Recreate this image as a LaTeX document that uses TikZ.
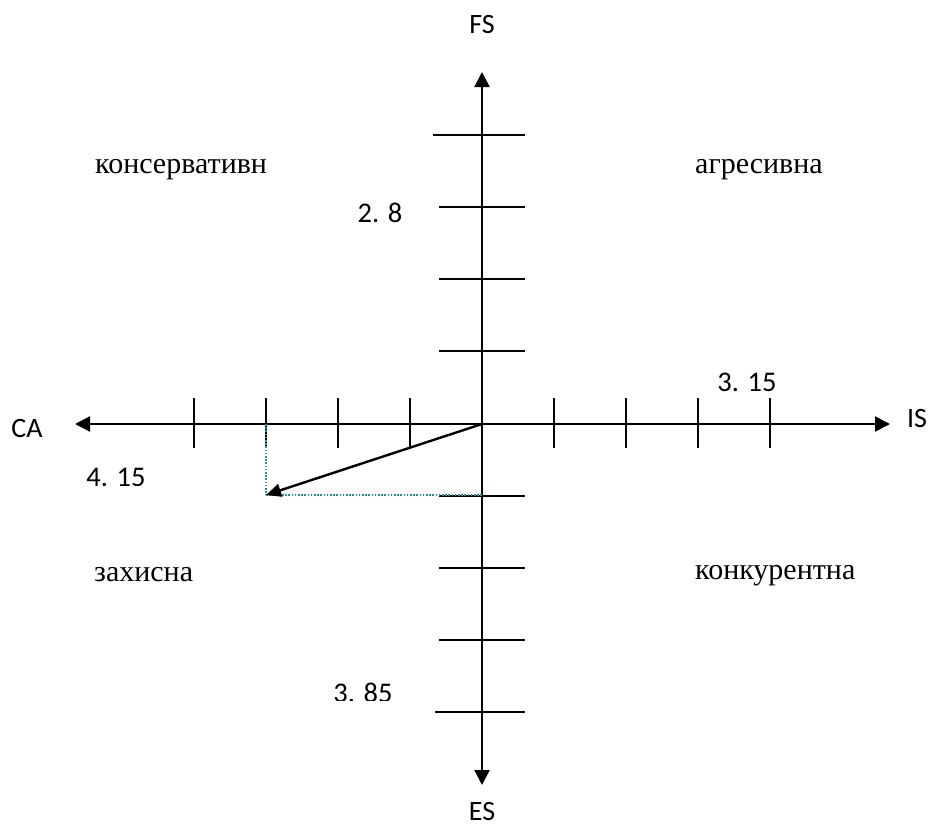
\documentclass[tikz,border=0pt]{standalone}
\usepackage{fontspec}
\setmainfont{Liberation Serif}
\newfontfamily\calfont{Carlito}
\usetikzlibrary{arrows.meta}
\definecolor{dotteal}{RGB}{30,150,150}
\tikzset{
  axisline/.style={line width=2.2bp,{Triangle[length=15bp,width=15bp]}-{Triangle[length=15bp,width=15bp]}},
  tickline/.style={line width=1.5bp},
  vecline/.style={line width=2.4bp,-{Triangle[length=15bp,width=13bp]}},
  dotline/.style={dotteal,line width=1.6bp,dash pattern=on 1.6bp off 1.6bp},
  axlabel/.style={font=\calfont\fontsize{28bp}{32bp}\selectfont,inner sep=0pt},
  numlabel/.style={font=\calfont\fontsize{28.5bp}{32bp}\selectfont,inner sep=0pt},
  quadlabel/.style={font=\fontsize{30bp}{34bp}\selectfont,inner sep=0pt,anchor=base west}
}
\begin{document}
\begin{tikzpicture}[x=1bp,y=-1bp]
\useasboundingbox (0,0) rectangle (936,826);
% axis end points
\coordinate (O) at (482,424);
\coordinate (top) at (482,72);
\coordinate (bot) at (482,785);
\coordinate (lft) at (75,424);
\coordinate (rgt) at (890,424);
% ticks on horizontal axis
\foreach \x in {194,266,338,410,554,626,698,770}
  \draw[tickline] (\x,398) -- (\x,448);
% ticks on vertical axis
\draw[tickline] (433,135) -- (525,135);
\foreach \y in {207,279,351,496,568,640}
  \draw[tickline] (439,\y) -- (525,\y);
\draw[tickline] (435,712) -- (525,712);
% axes
\draw[axisline] (lft) -- (rgt);
\draw[axisline] (bot) -- (top);
% dotted projections
\coordinate (P) at (266,495);
\coordinate (Px) at (266,424);
\coordinate (Py) at (482,495);
\draw[dotline] (Px) -- (P);
\draw[dotline] (P) -- (Py);
% vector
\draw[vecline] (O) -- (P);
% axis labels
\node[axlabel,anchor=base] (FS) at (482,33) {FS};
\node[axlabel,anchor=base] (ES) at (482,820) {ES};
\node[axlabel,anchor=base] (CA) at (27,437) {CA};
\node[axlabel,anchor=base] (IS) at (917,427) {IS};
% numbers
\node[numlabel,anchor=base] (n28) at (380,222) {2. 8};
\node[numlabel,anchor=base] (n315) at (747,391) {3. 15};
\begin{scope}
  \clip (60,440) rectangle (200,485.5);
  \node[numlabel,anchor=base] (n415) at (116,486) {4. 15};
\end{scope}
\begin{scope}
  \clip (320,660) rectangle (420,700);
  \node[numlabel,anchor=base] (n385) at (363,702.5) {3. 85};
\end{scope}
% quadrant names
\node[quadlabel] (kons) at (95,173) {консервативн};
\node[quadlabel] (agr) at (695,173) {агресивна};
\node[quadlabel] (zah) at (94,581) {захисна};
\node[quadlabel] (konk) at (695,579) {конкурентна};
\end{tikzpicture}
\end{document}
